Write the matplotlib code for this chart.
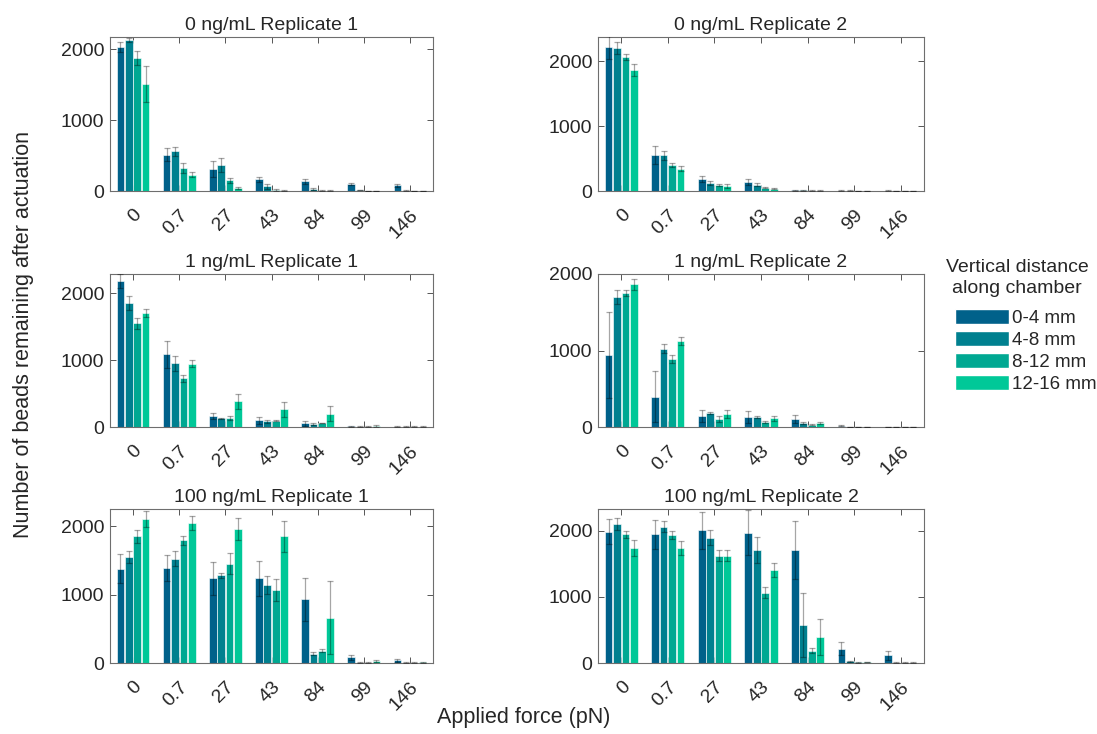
import matplotlib.pyplot as plt
import numpy as np
from matplotlib.patches import Patch

plt.rcParams["font.family"] = ["Liberation Sans", "DejaVu Sans"]
plt.rcParams["text.color"] = "#262626"

forces = ["0", "0.7", "27", "43", "84", "99", "146"]
distances = ["0-4 mm", "4-8 mm", "8-12 mm", "12-16 mm"]
colors = ["#00618a", "#00808f", "#00a892", "#00c898"]

titles = [
    "0 ng/mL Replicate 1", "0 ng/mL Replicate 2",
    "1 ng/mL Replicate 1", "1 ng/mL Replicate 2",
    "100 ng/mL Replicate 1", "100 ng/mL Replicate 2",
]

# bead counts, one row per distance band, one column per force
mean_0_r1 = [[2028, 509, 311, 165, 137, 99, 80],
             [2132, 557, 373, 66, 33, 14, 5],
             [1873, 325, 151, 14, 5, 3, 3],
             [1505, 231, 42, 5, 5, 3, 3]]
err_0_r1 = [[70, 90, 109, 33, 33, 19, 24],
            [30, 66, 99, 38, 14, 5, 3],
            [95, 76, 38, 8, 3, 2, 2],
            [250, 38, 10, 3, 3, 2, 2]]

mean_0_r2 = [[2211, 555, 185, 139, 10, 5, 5],
             [2195, 550, 129, 98, 8, 5, 3],
             [2057, 406, 87, 51, 5, 3, 3],
             [1861, 344, 77, 36, 5, 3, 3]]
err_0_r2 = [[180, 144, 41, 41, 5, 3, 3],
            [93, 72, 30, 20, 4, 3, 2],
            [46, 31, 15, 11, 3, 2, 2],
            [98, 42, 26, 5, 3, 2, 2]]

mean_1_r1 = [[2179, 1085, 164, 100, 55, 8, 5],
             [1856, 950, 129, 85, 50, 5, 5],
             [1547, 726, 139, 95, 60, 5, 5],
             [1706, 945, 383, 264, 199, 15, 5]]
err_1_r1 = [[110, 204, 50, 54, 35, 4, 3],
            [104, 110, 8, 19, 15, 3, 3],
            [85, 55, 30, 10, 5, 3, 3],
            [60, 55, 115, 109, 109, 20, 3]]

mean_1_r2 = [[939, 396, 143, 130, 100, 17, 4],
             [1700, 1026, 178, 130, 57, 4, 3],
             [1752, 887, 104, 70, 30, 4, 3],
             [1865, 1122, 170, 113, 52, 4, 3]]
err_1_r2 = [[561, 330, 83, 83, 52, 5, 2],
            [87, 65, 13, 18, 13, 2, 2],
            [39, 56, 35, 13, 5, 2, 2],
            [70, 56, 47, 35, 18, 2, 2]]

mean_100_r1 = [[1380, 1390, 1235, 1235, 930, 82, 39],
               [1550, 1525, 1283, 1138, 136, 5, 5],
               [1850, 1792, 1453, 1060, 179, 5, 5],
               [2111, 2048, 1961, 1850, 663, 29, 10]]
err_100_r1 = [[218, 193, 237, 252, 319, 39, 19],
              [82, 107, 39, 131, 24, 3, 3],
              [97, 68, 159, 160, 24, 3, 3],
              [117, 107, 160, 227, 538, 19, 5]]

mean_100_r2 = [[1985, 1945, 2010, 1970, 1708, 216, 116],
               [2106, 2065, 1894, 1703, 573, 25, 5],
               [1945, 1935, 1623, 1065, 186, 10, 5],
               [1739, 1739, 1623, 1402, 397, 15, 5]]
err_100_r2 = [[191, 216, 281, 340, 433, 101, 70],
              [90, 86, 111, 196, 482, 10, 3],
              [50, 60, 80, 81, 40, 5, 3],
              [115, 105, 85, 106, 276, 5, 3]]

means = [mean_0_r1, mean_0_r2, mean_1_r1, mean_1_r2, mean_100_r1, mean_100_r2]
errs = [err_0_r1, err_0_r2, err_1_r1, err_1_r2, err_100_r1, err_100_r2]
ytops = [2170, 2370, 2285, 2000, 2250, 2330]

fig = plt.figure(figsize=(10.97, 7.34), dpi=100)

W, H = 1097, 734
cols = [(110, 323), (598, 326)]
rows = [(37, 191), (274, 427), (509, 663)]

x = np.arange(1, len(forces) + 1)
slot = 0.182
for k in range(6):
    c0, cw = cols[k % 2]
    top, bot = rows[k // 2]
    ax = fig.add_axes([c0 / W, 1 - bot / H, cw / W, (bot - top) / H])
    for i in range(4):
        pos = x + (i - 1.5) * slot
        ax.bar(pos, means[k][i], width=0.165, color=colors[i],
               edgecolor=(1, 1, 1, 0.6), linewidth=0.7, zorder=2)
        ax.errorbar(pos, means[k][i], yerr=errs[k][i], fmt="none", ecolor="k",
                    alpha=0.35, elinewidth=0.9, capsize=2, capthick=0.9, zorder=3)
    ax.set_xlim(0.5, 7.5)
    ax.set_ylim(0, ytops[k])
    ax.set_yticks([0, 1000, 2000])
    ax.set_xticks(x)
    ax.set_xticklabels(forces, rotation=45, ha="right", va="top", rotation_mode="anchor")
    ax.tick_params(direction="in", top=True, right=True, length=4, width=0.7,
                   colors="#555555", labelcolor="#262626", labelsize=14)
    ax.tick_params(axis="x", pad=11)
    ax.tick_params(axis="y", pad=4)
    for s in ax.spines.values():
        s.set_color("#6e6e6e")
        s.set_linewidth(0.8)
    ax.set_title(titles[k], fontsize=14, pad=5)

fig.text(24 / W, 1 - 335 / H, "Number of beads remaining after actuation",
         rotation=90, ha="center", va="center", fontsize=15.5)
fig.text(524 / W, 1 - 718 / H, "Applied force (pN)", ha="center", va="center", fontsize=15.5)

# legend title drawn separately to match the spacing
fig.text(1017 / W, 1 - 278 / H, "Vertical distance\nalong chamber", ha="center", va="center",
         fontsize=14, linespacing=1.3, multialignment="center")
handles = [Patch(facecolor=c, edgecolor="white") for c in colors]
leg = fig.legend(handles, distances, loc="center left", bbox_to_anchor=(955 / W, 1 - 351 / H),
                 frameon=False, fontsize=13.5, handlelength=2.9, handleheight=0.85,
                 handletextpad=0.15, labelspacing=0.22, borderpad=0, borderaxespad=0)

fig.savefig("out.png", dpi=100)
